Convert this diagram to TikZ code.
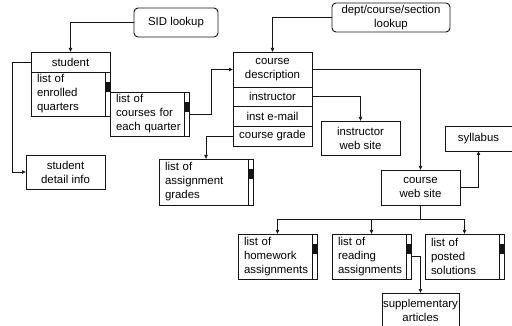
\documentclass[tikz,border=0pt]{standalone}
\usepackage{fontspec}
\setmainfont{Liberation Sans}
\usepackage{tikz}
\usetikzlibrary{arrows.meta,positioning,calc}
\definecolor{ink}{RGB}{20,20,20}
\tikzset{
  >={Latex[length=4pt,width=4pt]},
  base/.style={draw=ink,line width=0.9pt,outer sep=0pt,inner sep=0pt,anchor=north west,
    font=\fontsize{11.4}{14}\selectfont},
  lookup/.style={base,rounded corners=4pt,align=center,minimum width=#1},
  cell/.style={base,align=center,minimum width=79pt},
  plain/.style={base,align=center,minimum width=79pt},
  listing/.style={base,align=left,text width=#1,inner xsep=6pt},
  listing/.default=67pt,
  flow/.style={->,draw=ink,line width=0.7pt},
}
% scroll bar at the right edge of a list box
\newcommand\scrollbar[1]{%
  \draw[ink,line width=0.9pt] ([xshift=-5pt]#1.north east) -- ([xshift=-5pt]#1.south east);
  \fill[ink] ([xshift=-5pt,yshift=-10pt]#1.north east) rectangle ([yshift=-20pt]#1.north east);}

\begin{document}
\begin{tikzpicture}[x=1pt,y=-1pt]
  \useasboundingbox (0,0) rectangle (512,326);
  % lookups
  \node[lookup=84pt,minimum height=29pt] (sid) at (134,8) {SID lookup};
  \node[lookup=118pt,minimum height=29pt] (dept) at (332,3) {dept/course/section\\lookup};
  % student side
  \node[cell,minimum height=20pt] (student) at (31,52) {student};
  \node[listing,minimum height=44pt,below=0pt of student] (enrolled) {list of\\enrolled\\quarters};
  \node[listing,minimum height=44pt] (courses) at (110,92) {list of\\courses for\\each quarter};
  \node[plain,minimum height=34pt] (detail) at (26,155) {student\\detail info};
  % course side
  \node[cell,minimum height=35pt] (cdesc) at (233,52) {course\\description};
  \node[cell,minimum height=19pt,below=0pt of cdesc] (instr) {instructor};
  \node[cell,minimum height=20pt,below=0pt of instr] (email) {inst e-mail};
  \node[cell,minimum height=20pt,below=0pt of email] (grade) {course grade};
  \node[plain,minimum height=34pt] (iweb) at (321,121) {instructor\\web site};
  \node[listing=82pt,minimum height=46pt] (grades) at (159,159) {list of\\assignment\\grades};
  \node[plain,minimum width=67pt,minimum height=25pt] (syl) at (445,126) {syllabus};
  \node[plain,minimum height=35pt] (cws) at (381,170) {course\\web site};
  \node[listing,minimum height=45pt] (hw) at (238,234) {list of\\homework\\assignments};
  \node[listing,minimum height=45pt] (reading) at (332,234) {list of\\reading\\assignments};
  \node[listing,minimum height=45pt] (posted) at (425,234) {list of\\posted\\solutions};
  \node[plain,minimum width=77pt,minimum height=34pt] (supp) at (382,293) {supplementary\\articles};
  \foreach \n in {enrolled,courses,grades,hw,reading,posted} \scrollbar{\n};
  % connectors
  \draw[flow] (sid.west) -| (student.north);
  \draw[flow] (student.west) -- ++(-19,0) |- (detail.west);
  \draw[flow] (courses.east) -- ++(22,0) |- (cdesc.west);
  \draw[flow] (dept.west) -| (cdesc.north);
  \draw[flow] (cdesc.east) -| (cws.north);
  \draw[flow] (instr.east) -| (iweb.north);
  \draw[flow] (grade.west) -| (grades.north);
  \draw[flow] (cws.east) -| (syl.south);
  \draw[ink,line width=0.7pt] (cws.south) -- ++(0,14) coordinate (fork);
  \foreach \n in {hw,reading,posted} \draw[flow] (fork) -| (\n.north);
  \draw[flow] (reading.east) -| (supp.north);
\end{tikzpicture}
\end{document}
